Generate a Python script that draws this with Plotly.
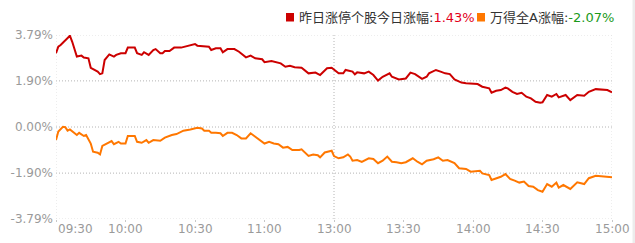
import plotly.graph_objects as go

# ---------------- data ----------------
# trading minute index (0 = 09:30, 120 = 13:00, 240 = 15:00) and % change
red_min = [0, 1, 2, 4, 6, 7, 9, 11, 12, 14, 15, 18, 19, 20, 21, 23, 25, 26, 28, 30,
           31, 34, 35, 37, 38, 40, 42, 43, 45, 46, 47, 49, 51, 54, 56, 58, 60, 61, 64, 66,
           67, 69, 71, 72, 74, 77, 79, 82, 84, 86, 89, 90, 93, 97, 99, 101, 103, 106, 109, 112,
           114, 117, 119, 122, 124, 125, 128, 129, 130, 133, 135, 137, 139, 141, 144, 145, 148, 151, 153, 155,
           158, 160, 161, 164, 166, 168, 170, 172, 175, 177, 182, 184, 187, 188, 190, 192, 194, 195, 197, 199,
           201, 203, 205, 207, 209, 210, 212, 214, 216, 217, 220, 222, 225, 228, 230, 233, 238, 240]
red_val = [3.04, 3.31, 3.38, 3.58, 3.76, 3.51, 2.90, 2.94, 2.86, 2.83, 2.44, 2.28, 2.18, 2.21, 2.76, 2.99, 2.90, 2.97, 3.04, 3.04,
           3.27, 3.27, 3.04, 2.97, 3.08, 2.97, 3.17, 3.21, 3.04, 3.04, 3.13, 3.13, 3.27, 3.27, 3.31, 3.38, 3.42, 3.35, 3.31, 3.31,
           3.17, 3.24, 3.24, 3.08, 3.21, 3.21, 3.10, 2.87, 2.94, 2.83, 2.79, 2.67, 2.72, 2.62, 2.48, 2.52, 2.46, 2.44, 2.21, 2.24,
           2.14, 2.42, 2.44, 2.21, 2.21, 2.35, 2.28, 2.17, 2.25, 2.21, 2.28, 2.14, 1.91, 2.07, 2.21, 2.07, 1.96, 2.00, 2.24, 2.18,
           1.98, 2.07, 2.21, 2.35, 2.28, 2.21, 2.18, 1.96, 1.83, 1.80, 1.77, 1.66, 1.59, 1.41, 1.49, 1.52, 1.62, 1.59, 1.45, 1.36,
           1.41, 1.25, 1.18, 1.04, 1.00, 1.02, 1.32, 1.25, 1.36, 1.22, 1.32, 1.11, 1.32, 1.29, 1.45, 1.56, 1.52, 1.43]

ora_min = [0, 1, 3, 4, 5, 6, 9, 10, 12, 13, 15, 16, 18, 19, 20, 22, 24, 25, 27, 28,
           30, 31, 34, 35, 37, 39, 40, 42, 45, 47, 50, 52, 55, 58, 61, 63, 64, 66, 67, 69,
           71, 72, 74, 76, 78, 80, 82, 84, 86, 88, 90, 92, 94, 96, 98, 100, 102, 105, 106, 109,
           111, 113, 114, 116, 119, 120, 122, 124, 126, 127, 128, 130, 132, 135, 137, 139, 141, 143, 145, 147,
           149, 151, 154, 156, 158, 160, 163, 165, 167, 169, 172, 174, 177, 179, 182, 183, 184, 187, 188, 190,
           192, 194, 196, 198, 200, 202, 204, 206, 208, 210, 212, 214, 216, 217, 219, 222, 225, 228, 230, 233,
           238, 240]
ora_val = [-0.54, -0.19, 0.01, -0.01, -0.15, -0.10, -0.33, -0.24, -0.37, -0.33, -0.68, -1.02, -1.06, -1.13, -0.78, -0.68, -0.58, -0.71, -0.61, -0.68,
           -0.68, -0.37, -0.37, -0.61, -0.65, -0.54, -0.65, -0.54, -0.57, -0.44, -0.33, -0.29, -0.15, -0.10, -0.03, -0.06, -0.15, -0.15, -0.24, -0.24,
           -0.26, -0.37, -0.24, -0.24, -0.33, -0.47, -0.47, -0.26, -0.40, -0.51, -0.68, -0.61, -0.68, -0.71, -0.85, -0.82, -0.95, -0.95, -0.92, -1.19,
           -1.13, -1.16, -1.25, -1.05, -0.98, -1.20, -1.29, -1.25, -1.13, -1.22, -1.39, -1.36, -1.44, -1.29, -1.32, -1.49, -1.39, -1.22, -1.43, -1.45,
           -1.49, -1.45, -1.29, -1.43, -1.54, -1.39, -1.33, -1.25, -1.39, -1.36, -1.49, -1.70, -1.73, -1.84, -1.80, -1.80, -1.91, -1.98, -2.18, -2.11,
           -2.05, -1.94, -2.14, -2.21, -2.29, -2.25, -2.43, -2.46, -2.60, -2.67, -2.35, -2.46, -2.29, -2.50, -2.39, -2.55, -2.28, -2.35, -2.11, -2.01,
           -2.05, -2.07]

x_tick_pos = [0, 30, 60, 90, 120, 150, 180, 210, 240]
x_tick_lab = ["09:30", "10:00", "10:30", "11:00", "13:00", "13:30", "14:00", "14:30", "15:00"]
y_tick_val = [3.79, 1.90, 0.00, -1.90, -3.79]
y_tick_lab = ["3.79%", "1.90%", "0.00%", "-1.90%", "-3.79%"]

series_names = ["昨日涨停个股今日涨幅", "万得全A涨幅"]
series_last = ["1.43%", "-2.07%"]

# ---------------- style ----------------
RED = "#cc0000"
ORANGE = "#ff7700"
GRID_DARK = "#b4b4b4"
GRID_LIGHT = "#dcdcdc"
TICK_FONT = dict(family="DejaVu Sans", size=12, color="#9a9a9a")
LEG_FONT = dict(family="DejaVu Sans, Noto Sans CJK SC", size=13, color="#333333")

W, H = 635, 243
ML, MR, MT, MB = 56, 23, 35, 24
PW, PH = W - ML - MR, H - MT - MB

def px_x(p):
    return (p - ML) / PW

def px_y(p):
    return (H - MB - p) / PH

fig = go.Figure()
fig.add_trace(go.Scatter(x=red_min, y=red_val, mode="lines",
                         line=dict(color=RED, width=2), hoverinfo="skip"))
fig.add_trace(go.Scatter(x=ora_min, y=ora_val, mode="lines",
                         line=dict(color=ORANGE, width=2), hoverinfo="skip"))

shapes = []
for v in y_tick_val:
    col = GRID_LIGHT if abs(v) == max(y_tick_val) else GRID_DARK
    shapes.append(dict(type="line", xref="paper", yref="y", x0=0, x1=1, y0=v, y1=v,
                       line=dict(color=col, width=1, dash="1px,2px"), layer="below"))
for xv in (x_tick_pos[0], x_tick_pos[4], x_tick_pos[-1]):
    col = GRID_DARK if xv == x_tick_pos[4] else GRID_LIGHT
    shapes.append(dict(type="line", xref="x", yref="paper", x0=xv, x1=xv, y0=0, y1=1,
                       line=dict(color=col, width=1, dash="1px,2px"), layer="below"))
# legend squares
shapes.append(dict(type="rect", xref="paper", yref="paper",
                   x0=px_x(286), x1=px_x(294), y0=px_y(21.5), y1=px_y(13),
                   fillcolor=RED, line=dict(width=0)))
shapes.append(dict(type="rect", xref="paper", yref="paper",
                   x0=px_x(477), x1=px_x(485), y0=px_y(21.5), y1=px_y(13),
                   fillcolor=ORANGE, line=dict(width=0)))
# faint right border strip
shapes.append(dict(type="rect", xref="paper", yref="paper",
                   x0=px_x(632.5), x1=px_x(635), y0=px_y(243), y1=px_y(0),
                   fillcolor="#ececec", line=dict(width=0)))

annotations = []
for i, (p, lab) in enumerate(zip(x_tick_pos, x_tick_lab)):
    anchor = "left" if i == 0 else "center"
    annotations.append(dict(x=p, y=0, xref="x", yref="paper", text=lab, showarrow=False,
                            xanchor=anchor, yanchor="top", yshift=-1, font=TICK_FONT))

annotations.append(dict(x=px_x(296.5), y=px_y(17.5), xref="paper", yref="paper",
                        xanchor="left", yanchor="middle", showarrow=False, font=LEG_FONT,
                        text=f"{series_names[0]}:<span style='color:#e3001b'>{series_last[0]}</span>"))
annotations.append(dict(x=px_x(487.5), y=px_y(17.5), xref="paper", yref="paper",
                        xanchor="left", yanchor="middle", showarrow=False, font=LEG_FONT,
                        text=f"{series_names[1]}:<span style='color:#1a9a1a'>{series_last[1]}</span>"))

fig.update_layout(
    width=W, height=H,
    margin=dict(l=ML, r=MR, t=MT, b=MB, pad=0),
    paper_bgcolor="white", plot_bgcolor="white",
    showlegend=False,
    shapes=shapes, annotations=annotations,
    xaxis=dict(range=[x_tick_pos[0], x_tick_pos[-1]], tickvals=x_tick_pos, showticklabels=False,
               ticks="outside", ticklen=2, tickcolor="#c8c8c8", showgrid=False, zeroline=False,
               showline=False, fixedrange=True),
    yaxis=dict(range=[min(y_tick_val), max(y_tick_val)], tickvals=y_tick_val, ticktext=y_tick_lab,
               tickfont=TICK_FONT, showgrid=False, zeroline=False, showline=False,
               ticks="", ticklabelstandoff=2, fixedrange=True),
)

fig.write_html("out.html", config={"displayModeBar": False})
